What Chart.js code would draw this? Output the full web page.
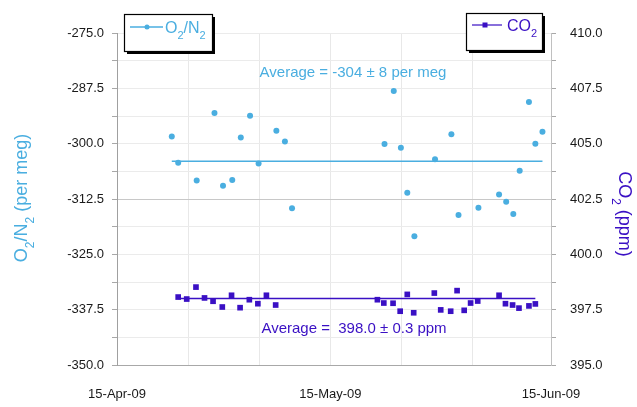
<!DOCTYPE html>
<html>
<head>
<meta charset="utf-8">
<script src="https://cdn.jsdelivr.net/npm/chart.js@4.4.1/dist/chart.umd.min.js"></script>
<style>
  html, body { margin: 0; padding: 0; background: #fff; }
</style>
</head>
<body>
<canvas id="chart" width="637" height="407"></canvas>
<script>
// sample times, in days after 15-Apr-09
const o2Days = [7.7, 8.6, 11.2, 13.7, 14.9, 16.2, 17.4, 18.7, 19.9, 22.4, 23.6, 24.6,
  37.6, 38.9, 39.9, 40.8, 41.8, 44.7, 47.0, 48.0, 50.8, 53.7, 54.7, 55.7, 56.6, 57.9, 58.8, 59.8];
const o2Values = [-298.4, -304.3, -308.3, -293.1, -309.5, -308.2, -298.6, -293.7, -304.5, -297.1, -299.5, -314.6,
  -300.1, -288.1, -300.9, -311.1, -320.9, -303.5, -297.9, -316.1, -314.5, -311.5, -313.1, -315.9, -306.1, -290.6, -300.0, -297.3];

const co2Days = [8.6, 9.8, 11.1, 12.3, 13.5, 14.8, 16.1, 17.3, 18.6, 19.8, 21.0, 22.3,
  36.6, 37.5, 38.8, 39.8, 40.8, 41.7, 44.6, 45.5, 46.9, 47.8, 48.8, 49.7, 50.7, 53.7, 54.6, 55.6, 56.5, 57.9, 58.8];
const co2Values = [398.07, 397.98, 398.52, 398.03, 397.88, 397.62, 398.15, 397.59, 397.95, 397.77, 398.15, 397.71,
  397.95, 397.80, 397.79, 397.43, 398.19, 397.36, 398.25, 397.49, 397.43, 398.36, 397.47, 397.80, 397.89, 398.15, 397.77, 397.71, 397.57, 397.67, 397.76];

const o2Avg = -304, o2Sd = 8;
const co2Avg = 398.0, co2Sd = 0.3;
const o2AvgSpan = [7.7, 59.8];
const co2AvgSpan = [8.6, 58.8];

const xGridDays = [0, 10, 20, 30, 40, 50, 61];
const xLabelDays = [0, 30, 61];
const xLabels = ['15-Apr-09', '15-May-09', '15-Jun-09'];

const O2_COLOR = '#4aaee0';
const CO2_COLOR = '#3a10c4';
const FONT = '"Liberation Sans", Arial, sans-serif';
const TEXT = '#1a1a1a';

Chart.defaults.font.family = FONT;

function pts(xs, ys) {
  return xs.map((x, i) => ({ x: x, y: ys[i] }));
}

function stepTicks(min, max, step) {
  const out = [];
  for (let v = min; v <= max + 1e-9; v += step) out.push({ value: v });
  return out;
}

// text with subscript parts: [[text, isSub], ...]
function drawRich(c, parts, x, y, size, subSize) {
  let cx = x;
  parts.forEach(([t, sub]) => {
    c.font = (sub ? subSize : size) + 'px ' + FONT;
    c.fillText(t, cx, sub ? y + size * 0.38 : y);
    cx += c.measureText(t).width;
  });
  return cx - x;
}

function richWidth(c, parts, size, subSize) {
  let w = 0;
  parts.forEach(([t, sub]) => {
    c.font = (sub ? subSize : size) + 'px ' + FONT;
    w += c.measureText(t).width;
  });
  return w;
}

function legendBox(c, x, y, w, h) {
  c.fillStyle = '#000';
  c.fillRect(x + 3, y + 3, w, h);
  c.fillStyle = '#fff';
  c.fillRect(x, y, w, h);
  c.strokeStyle = '#000';
  c.lineWidth = 1.2;
  c.strokeRect(x + 0.5, y + 0.5, w, h);
}

const overlay = {
  id: 'overlay',
  afterDraw(chart) {
    const c = chart.ctx;
    c.save();
    c.textBaseline = 'alphabetic';

    // axis titles
    const leftTitle = [['O', 0], ['2', 1], ['/N', 0], ['2', 1], [' (per meg)', 0]];
    c.save();
    c.translate(27, 198);
    c.rotate(-Math.PI / 2);
    c.fillStyle = O2_COLOR;
    drawRich(c, leftTitle, -richWidth(c, leftTitle, 18, 12) / 2, 0, 18, 12);
    c.restore();

    const rightTitle = [['CO', 0], ['2', 1], [' (ppm)', 0]];
    c.save();
    c.translate(619, 214);
    c.rotate(Math.PI / 2);
    c.fillStyle = CO2_COLOR;
    drawRich(c, rightTitle, -richWidth(c, rightTitle, 18, 12) / 2, 0, 18, 12);
    c.restore();

    // averages
    c.textAlign = 'center';
    c.font = '15px ' + FONT;
    c.fillStyle = O2_COLOR;
    c.fillText('Average = ' + o2Avg + ' \u00b1 ' + o2Sd + ' per meg', 353, 77);
    c.fillStyle = CO2_COLOR;
    c.fillText('Average =  ' + co2Avg.toFixed(1) + ' \u00b1 ' + co2Sd + ' ppm', 354, 333);
    c.textAlign = 'left';

    // legend: O2/N2
    legendBox(c, 124, 14, 88, 37);
    c.strokeStyle = O2_COLOR;
    c.lineWidth = 1.5;
    c.beginPath(); c.moveTo(130, 27); c.lineTo(163, 27); c.stroke();
    c.fillStyle = O2_COLOR;
    c.beginPath(); c.arc(147, 27, 2.5, 0, Math.PI * 2); c.fill();
    drawRich(c, [['O', 0], ['2', 1], ['/N', 0], ['2', 1]], 165, 33, 16, 11);

    // legend: CO2
    legendBox(c, 466, 13, 76, 37);
    c.strokeStyle = CO2_COLOR;
    c.beginPath(); c.moveTo(472, 25); c.lineTo(502, 25); c.stroke();
    c.fillStyle = CO2_COLOR;
    c.fillRect(482.5, 22.5, 5, 5);
    drawRich(c, [['CO', 0], ['2', 1]], 507, 31, 16, 11);

    c.restore();
  }
};

new Chart(document.getElementById('chart'), {
  type: 'scatter',
  data: {
    datasets: [
      {
        label: 'O2/N2',
        data: pts(o2Days, o2Values),
        yAxisID: 'y',
        pointStyle: 'circle',
        pointRadius: 3,
        backgroundColor: O2_COLOR,
        borderColor: O2_COLOR,
        borderWidth: 0
      },
      {
        label: 'O2/N2 average',
        type: 'line',
        data: pts(o2AvgSpan, [o2Avg, o2Avg]),
        yAxisID: 'y',
        borderColor: O2_COLOR,
        borderWidth: 1.5,
        pointRadius: 0
      },
      {
        label: 'CO2',
        data: pts(co2Days, co2Values),
        yAxisID: 'y2',
        pointStyle: 'rect',
        pointRadius: 4,
        backgroundColor: CO2_COLOR,
        borderColor: CO2_COLOR,
        borderWidth: 0
      },
      {
        label: 'CO2 average',
        type: 'line',
        data: pts(co2AvgSpan, [co2Avg, co2Avg]),
        yAxisID: 'y2',
        borderColor: CO2_COLOR,
        borderWidth: 1.5,
        pointRadius: 0
      }
    ]
  },
  options: {
    responsive: false,
    animation: false,
    layout: { padding: { top: 33, left: 0, right: 0, bottom: 0 } },
    plugins: { legend: { display: false }, tooltip: { enabled: false } },
    scales: {
      x: {
        type: 'linear',
        min: 0,
        max: 61,
        afterBuildTicks: s => { s.ticks = xGridDays.map(v => ({ value: v })); },
        afterFit: s => { s.height = 42; },
        ticks: {
          autoSkip: false,
          maxRotation: 0,
          padding: 22,
          color: TEXT,
          font: { size: 13 },
          callback: v => {
            const i = xLabelDays.indexOf(v);
            return i < 0 ? '' : xLabels[i];
          }
        },
        grid: { color: '#e8e8e8', drawTicks: false, tickLength: 0 },
        border: { color: '#a8a8a8' }
      },
      y: {
        position: 'left',
        min: -350,
        max: -275,
        afterBuildTicks: s => { s.ticks = stepTicks(-350, -275, 6.25); },
        afterFit: s => { s.width = 117; },
        ticks: {
          autoSkip: false,
          padding: 8,
          color: TEXT,
          font: { size: 13 },
          callback: v => ((v + 350) % 12.5 === 0 ? v.toFixed(1) : '')
        },
        grid: {
          color: ctx => (ctx.tick && ctx.tick.value === -312.5 ? '#c8c8c8' : '#ebebeb'),
          tickLength: 5,
          tickColor: '#a8a8a8'
        },
        border: { color: '#a0a0a0' }
      },
      y2: {
        position: 'right',
        min: 395,
        max: 410,
        afterBuildTicks: s => { s.ticks = stepTicks(395, 410, 1.25); },
        afterFit: s => { s.width = 86; },
        ticks: {
          autoSkip: false,
          padding: 14,
          color: TEXT,
          font: { size: 13 },
          callback: v => ((v - 395) % 2.5 === 0 ? v.toFixed(1) : '')
        },
        grid: { drawOnChartArea: false, tickLength: 5, tickColor: '#a8a8a8' },
        border: { color: '#c0c0c0' }
      }
    }
  },
  plugins: [overlay]
});
</script>
</body>
</html>
